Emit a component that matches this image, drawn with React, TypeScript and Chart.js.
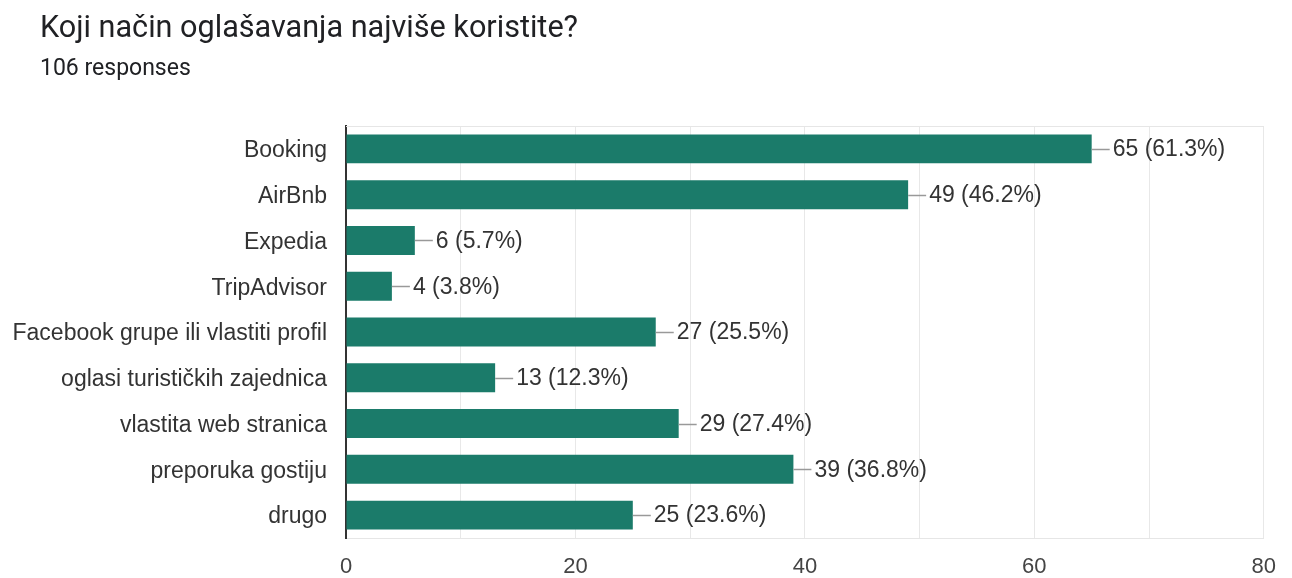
import React, { useEffect, useRef } from "react";
import { Chart, registerables } from "chart.js";

Chart.register(...registerables);

const TITLE = "Koji način oglašavanja najviše koristite?";
const SUBTITLE = "106 responses";
const categories = [
  "Booking",
  "AirBnb",
  "Expedia",
  "TripAdvisor",
  "Facebook grupe ili vlastiti profil",
  "oglasi turističkih zajednica",
  "vlastita web stranica",
  "preporuka gostiju",
  "drugo",
];
const counts = [65, 49, 6, 4, 27, 13, 29, 39, 25];
const percentLabels = ["61.3%", "46.2%", "5.7%", "3.8%", "25.5%", "12.3%", "27.4%", "36.8%", "23.6%"];
const xTickLabels = [0, 20, 40, 60, 80];

const CHART_FONT = "'Liberation Sans', Arial, Helvetica, sans-serif";
const HEAD_FONT = "Roboto, 'Noto Sans', Arial, sans-serif";

const valueLabelPlugin = {
  id: "valueLabels",
  beforeDatasetsDraw(chart: any) {
    const { ctx, chartArea } = chart;
    ctx.save();
    ctx.strokeStyle = "#e6e6e6";
    ctx.lineWidth = 1;
    ctx.beginPath();
    ctx.moveTo(chartArea.left, chartArea.top + 0.5);
    ctx.lineTo(chartArea.right, chartArea.top + 0.5);
    ctx.stroke();
    ctx.restore();
  },
  afterDatasetsDraw(chart: any) {
    const { ctx } = chart;
    const meta = chart.getDatasetMeta(0);
    ctx.save();
    meta.data.forEach((bar: any, i: number) => {
      const x = bar.x;
      const y = Math.round(bar.y) + 0.5;
      ctx.strokeStyle = "#999999";
      ctx.lineWidth = 1.5;
      ctx.beginPath();
      ctx.moveTo(x, y);
      ctx.lineTo(x + 18, y);
      ctx.stroke();
      ctx.fillStyle = "#333333";
      ctx.font = `23px ${CHART_FONT}`;
      ctx.textAlign = "left";
      ctx.textBaseline = "middle";
      ctx.fillText(`${counts[i]} (${percentLabels[i]})`, x + 21, bar.y + 1);
    });
    ctx.restore();
  },
};

export default function App() {
  const canvasRef = useRef<HTMLCanvasElement | null>(null);

  useEffect(() => {
    document.body.style.margin = "0";
    const canvas = canvasRef.current;
    if (!canvas) return;
    const chart = new Chart(canvas, {
      type: "bar",
      data: {
        labels: categories,
        datasets: [
          {
            data: counts,
            backgroundColor: "#1b7b6a",
            borderWidth: 0,
            barPercentage: 0.632,
            categoryPercentage: 1,
          },
        ],
      },
      options: {
        indexAxis: "y",
        animation: false,
        responsive: false,
        maintainAspectRatio: false,
        layout: { padding: { top: 126, right: 27, bottom: 0, left: 0 } },
        plugins: {
          legend: { display: false },
          tooltip: { enabled: false },
          title: { display: false },
        },
        scales: {
          x: {
            min: 0,
            max: 80,
            afterFit(scale: any) {
              scale.height = 40;
            },
            ticks: {
              stepSize: 10,
              padding: 16,
              color: "#444444",
              font: { family: CHART_FONT, size: 22 },
              callback(value: any) {
                return xTickLabels.includes(Number(value)) ? String(value) : "";
              },
              autoSkip: false,
              maxRotation: 0,
            },
            grid: { color: "#e8e8e8", drawTicks: false, lineWidth: 1 },
            border: { color: "#e6e6e6", width: 1 },
          },
          y: {
            afterFit(scale: any) {
              scale.width = 346;
            },
            ticks: {
              padding: 19,
              labelOffset: 2,
              color: "#333333",
              font: { family: CHART_FONT, size: 23 },
              autoSkip: false,
            },
            grid: { display: false, drawTicks: false },
            border: { color: "#333333", width: 2 },
          },
        },
      },
      plugins: [valueLabelPlugin],
    } as any);
    return () => chart.destroy();
  }, []);

  return (
    <div style={{ position: "absolute", left: 0, top: 0, width: 1292, height: 578, background: "#ffffff" }}>
      <canvas ref={canvasRef} width={1292} height={578} style={{ position: "absolute", left: 0, top: 0 }} />
      <div
        style={{
          position: "absolute",
          left: 40,
          top: 12,
          fontFamily: HEAD_FONT,
          fontSize: 30.6,
          color: "#202124",
          lineHeight: "30px",
          whiteSpace: "nowrap",
        }}
      >
        {TITLE}
      </div>
      <div
        style={{
          position: "absolute",
          left: 40,
          top: 56,
          fontFamily: HEAD_FONT,
          fontSize: 23,
          color: "#202124",
          lineHeight: "23px",
          whiteSpace: "nowrap",
        }}
      >
        {SUBTITLE}
      </div>
    </div>
  );
}
